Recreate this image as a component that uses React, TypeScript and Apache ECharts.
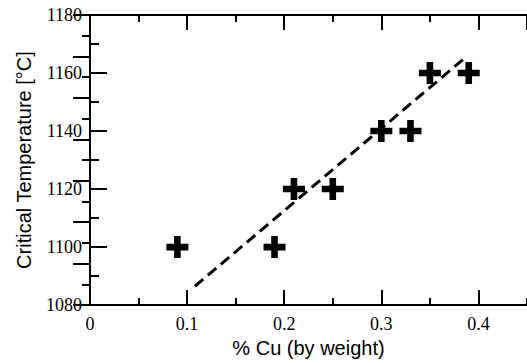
import React, { useEffect, useRef } from "react";
import * as echarts from "echarts";

const cuPercent = [0.09, 0.19, 0.21, 0.25, 0.3, 0.33, 0.35, 0.39];
const criticalTemp = [1100, 1100, 1120, 1120, 1140, 1140, 1160, 1160];
const trendX = [0.108, 0.387];
const trendY = [1086.5, 1165.5];
const xTitle = "% Cu (by weight)";
const yTitle = "Critical Temperature [°C]";

const cross = "path://M35,0H65V35H100V65H65V100H35V65H0V35H35Z";

export default function App() {
  const ref = useRef<HTMLDivElement>(null);
  useEffect(() => {
    if (!ref.current) return;
    const chart = echarts.init(ref.current, null, { renderer: "svg" });
    const serif = "Liberation Serif";
    const sans = "Liberation Sans";
    const line = { show: true, lineStyle: { color: "#000", width: 2 } };
    const tickStyle = { color: "#000", width: 2 };
    chart.setOption({
      animation: false,
      backgroundColor: "#fff",
      textStyle: { fontFamily: serif },
      grid: { left: 90, top: 15, width: 440, height: 293, containLabel: false },
      xAxis: [
        {
          type: "value",
          position: "bottom",
          min: 0,
          max: 0.45,
          interval: 0.1,
          axisLine: line,
          axisTick: { show: true, inside: true, length: 15, lineStyle: tickStyle },
          splitLine: { show: false },
          axisLabel: {
            margin: 10,
            fontFamily: serif,
            fontSize: 18,
            color: "#000",
            showMaxLabel: false,
            formatter: (v: number) => (Math.abs(v * 10 - Math.round(v * 10)) < 1e-6 ? String(Math.round(v * 10) / 10) : ""),
          },
          name: xTitle,
          nameLocation: "middle",
          nameGap: 32,
          nameTextStyle: { fontFamily: sans, fontSize: 20, color: "#000" },
        },
        {
          type: "value",
          position: "bottom",
          min: 0,
          max: 0.45,
          interval: 0.05,
          axisLine: { show: false },
          axisTick: { show: true, inside: true, length: 7, lineStyle: tickStyle },
          splitLine: { show: false },
          axisLabel: { show: false },
        },
        {
          type: "value",
          position: "top",
          min: 0,
          max: 0.45,
          interval: 0.1,
          axisLine: line,
          axisTick: { show: true, inside: true, length: 15, lineStyle: tickStyle },
          splitLine: { show: false },
          axisLabel: { show: false },
        },
        {
          type: "value",
          position: "top",
          min: 0,
          max: 0.45,
          interval: 0.05,
          axisLine: { show: false },
          axisTick: { show: true, inside: true, length: 7, lineStyle: tickStyle },
          splitLine: { show: false },
          axisLabel: { show: false },
        },
      ],
      yAxis: [
        {
          type: "value",
          position: "left",
          min: 1080,
          max: 1180,
          interval: 20,
          axisLine: line,
          axisTick: { show: true, inside: true, length: 17, lineStyle: tickStyle },
          minorTick: { show: true, splitNumber: 2, length: 9, lineStyle: tickStyle },
          splitLine: { show: false },
          minorSplitLine: { show: false },
          axisLabel: {
            margin: 8,
            fontFamily: serif,
            fontSize: 18,
            color: "#000",
            formatter: (v: number) => String(v),
          },
          name: yTitle,
          nameLocation: "middle",
          nameGap: 56,
          nameTextStyle: { fontFamily: sans, fontSize: 20, color: "#000" },
        },
        {
          type: "value",
          position: "right",
          min: 0,
          max: 7,
          interval: 1,
          axisLine: line,
          axisTick: { show: true, inside: true, length: 17, lineStyle: tickStyle },
          minorTick: { show: true, splitNumber: 2, length: 8, lineStyle: tickStyle },
          splitLine: { show: false },
          minorSplitLine: { show: false },
          axisLabel: { show: false },
        },
      ],
      series: [
        {
          type: "line",
          xAxisIndex: 0,
          yAxisIndex: 0,
          data: trendX.map((x, i) => [x, trendY[i]]),
          symbol: "none",
          lineStyle: { color: "#000", width: 3, type: [11, 6] },
          z: 2,
        },
        {
          type: "scatter",
          xAxisIndex: 0,
          yAxisIndex: 0,
          data: cuPercent.map((x, i) => [x, criticalTemp[i]]),
          symbol: cross,
          symbolSize: 22,
          itemStyle: { color: "#000", opacity: 1 },
          z: 3,
        },
      ],
    });
    return () => chart.dispose();
  }, []);
  return (
    <div
      ref={ref}
      style={{ position: "fixed", left: 0, top: 0, width: 527, height: 363, background: "#fff" }}
    />
  );
}
